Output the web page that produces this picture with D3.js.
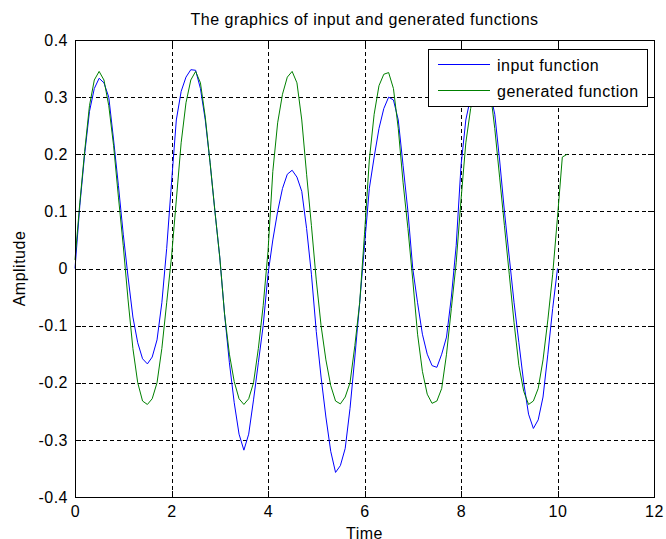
<!DOCTYPE html>
<meta charset="utf-8"/>
<style>
  body { margin: 0; background: #fff; }
  text { font-family: "Liberation Sans", Arial, sans-serif; letter-spacing: 0.5px; }
</style>
<svg width="666" height="539"></svg>
<script src="https://d3js.org/d3.v7.min.js"></script>
<script>

// sample step of both signals
var dt = 0.1;

// input function, t = 0 .. 10.0
var inputValues = [
  0.0, 0.11, 0.2, 0.275, 0.315, 0.333, 0.325, 0.3, 0.225, 0.145,
  0.06, -0.015, -0.085, -0.13, -0.158, -0.167, -0.155, -0.125, -0.06, 0.035,
  0.15, 0.26, 0.31, 0.335, 0.348, 0.347, 0.315, 0.26, 0.185, 0.1,
  0.02, -0.08, -0.165, -0.235, -0.29, -0.318, -0.29, -0.23, -0.165, -0.1,
  -0.01, 0.05, 0.1, 0.14, 0.165, 0.172, 0.16, 0.135, 0.07, -0.01,
  -0.11, -0.19, -0.26, -0.32, -0.357, -0.345, -0.315, -0.245, -0.155, -0.06,
  0.04, 0.14, 0.195, 0.245, 0.28, 0.3, 0.295, 0.26, 0.18, 0.1,
  0.0, -0.06, -0.115, -0.15, -0.17, -0.173, -0.15, -0.12, -0.05, 0.04,
  0.18, 0.26, 0.3, 0.325, 0.335, 0.335, 0.31, 0.27, 0.19, 0.1,
  0.02, -0.06, -0.13, -0.2, -0.255, -0.28, -0.265, -0.225, -0.15, -0.07,
  0.0
];

// generated function, t = 0 .. 10.2
var generatedValues = [
  0.015, 0.115, 0.205, 0.285, 0.33, 0.345, 0.33, 0.285, 0.215, 0.125,
  0.04, -0.055, -0.14, -0.2, -0.232, -0.238, -0.228, -0.2, -0.14, -0.06,
  0.02, 0.12, 0.22, 0.29, 0.33, 0.345, 0.325, 0.265, 0.185, 0.1,
  0.02, -0.08, -0.15, -0.198, -0.228, -0.238, -0.228, -0.2, -0.14, -0.065,
  0.03, 0.17, 0.255, 0.305, 0.335, 0.345, 0.325, 0.26, 0.165, 0.075,
  -0.02, -0.1, -0.16, -0.205, -0.232, -0.237, -0.225, -0.2, -0.135, -0.06,
  0.06, 0.19, 0.27, 0.32, 0.34, 0.343, 0.315, 0.245, 0.15, 0.07,
  -0.02, -0.115, -0.18, -0.22, -0.236, -0.232, -0.21, -0.15, -0.07, 0.01,
  0.12, 0.22, 0.28, 0.32, 0.34, 0.345, 0.315, 0.245, 0.16, 0.075,
  -0.01, -0.095, -0.17, -0.215, -0.238, -0.232, -0.21, -0.16, -0.09, -0.01,
  0.09, 0.195, 0.2
];

var xTicks = [0, 2, 4, 6, 8, 10, 12];
var yTicks = [-0.4, -0.3, -0.2, -0.1, 0, 0.1, 0.2, 0.3, 0.4];
var seriesNames = ["input function", "generated function"];
var seriesColors = ["#0000ff", "#008000"];

var svg = d3.select("svg"),
    plotLeft = 75, plotRight = 654, plotTop = 40, plotBottom = 497,
    width = plotRight - plotLeft,
    height = plotBottom - plotTop;

var x = d3.scaleLinear().domain([0, 12]).range([plotLeft, plotRight]);
var y = d3.scaleLinear().domain([-0.4, 0.4]).range([plotBottom, plotTop]);

var fmt = function(d) { return d === 0 ? "0" : String(+d.toFixed(1)); };

// grid
svg.append("g")
    .attr("transform", "translate(0," + plotBottom + ")")
    .call(d3.axisBottom(x).tickValues(xTicks).tickSize(-height).tickFormat(""))
    .call(function(g) { g.select(".domain").remove(); })
    .selectAll("line")
      .attr("stroke", "#000")
      .attr("stroke-dasharray", "4,3")
      .attr("shape-rendering", "crispEdges");

svg.append("g")
    .attr("transform", "translate(" + plotLeft + ",0)")
    .call(d3.axisLeft(y).tickValues(yTicks).tickSize(-width).tickFormat(""))
    .call(function(g) { g.select(".domain").remove(); })
    .selectAll("line")
      .attr("stroke", "#000")
      .attr("stroke-dasharray", "4,3")
      .attr("shape-rendering", "crispEdges");

// curves
var line = d3.line()
    .x(function(d, i) { return x(i * dt); })
    .y(function(d) { return y(d); });

[inputValues, generatedValues].forEach(function(values, k) {
  svg.append("path")
      .datum(values)
      .attr("fill", "none")
      .attr("stroke", seriesColors[k])
      .attr("stroke-width", 1)
      .attr("d", line);
});

// axes with inward ticks on all four sides
svg.append("g")
    .attr("transform", "translate(0," + plotBottom + ")")
    .call(d3.axisBottom(x).tickValues(xTicks).tickSizeInner(-6).tickSizeOuter(0).tickPadding(9).tickFormat(fmt));
svg.append("g")
    .attr("transform", "translate(" + plotLeft + ",0)")
    .call(d3.axisLeft(y).tickValues(yTicks).tickSizeInner(-6).tickSizeOuter(0).tickPadding(7).tickFormat(fmt));
svg.append("g")
    .attr("transform", "translate(0," + plotTop + ")")
    .call(d3.axisTop(x).tickValues(xTicks).tickSizeInner(-6).tickSizeOuter(0).tickFormat(""));
svg.append("g")
    .attr("transform", "translate(" + plotRight + ",0)")
    .call(d3.axisRight(y).tickValues(yTicks).tickSizeInner(-6).tickSizeOuter(0).tickFormat(""));

svg.selectAll(".tick text")
    .attr("fill", "#000")
    .style("font-size", "16px");
svg.selectAll(".domain, .tick line")
    .attr("shape-rendering", "crispEdges");

svg.append("rect")
    .attr("x", plotLeft).attr("y", plotTop)
    .attr("width", width).attr("height", height)
    .attr("fill", "none")
    .attr("stroke", "#000")
    .attr("shape-rendering", "crispEdges");

// labels
svg.append("text")
    .attr("x", (plotLeft + plotRight) / 2)
    .attr("y", 25)
    .attr("text-anchor", "middle")
    .style("font-size", "16px")
    .text("The graphics of input and generated functions");

svg.append("text")
    .attr("x", (plotLeft + plotRight) / 2)
    .attr("y", 539)
    .attr("text-anchor", "middle")
    .style("font-size", "16px")
    .text("Time");

svg.append("text")
    .attr("transform", "translate(25," + ((plotTop + plotBottom) / 2) + ") rotate(-90)")
    .attr("text-anchor", "middle")
    .style("font-size", "16px")
    .text("Amplitude");

// legend
var legend = svg.append("g").attr("transform", "translate(428,49)");
legend.append("rect")
    .attr("width", 219).attr("height", 57)
    .attr("fill", "#fff")
    .attr("stroke", "#000")
    .attr("shape-rendering", "crispEdges");

seriesNames.forEach(function(name, k) {
  legend.append("line")
      .attr("x1", 10).attr("x2", 62)
      .attr("y1", 15.5 + k * 26).attr("y2", 15.5 + k * 26)
      .attr("stroke", seriesColors[k]);
  legend.append("text")
      .attr("x", 69)
      .attr("y", 22 + k * 26)
      .style("font-size", "16px")
      .text(name);
});

</script>
